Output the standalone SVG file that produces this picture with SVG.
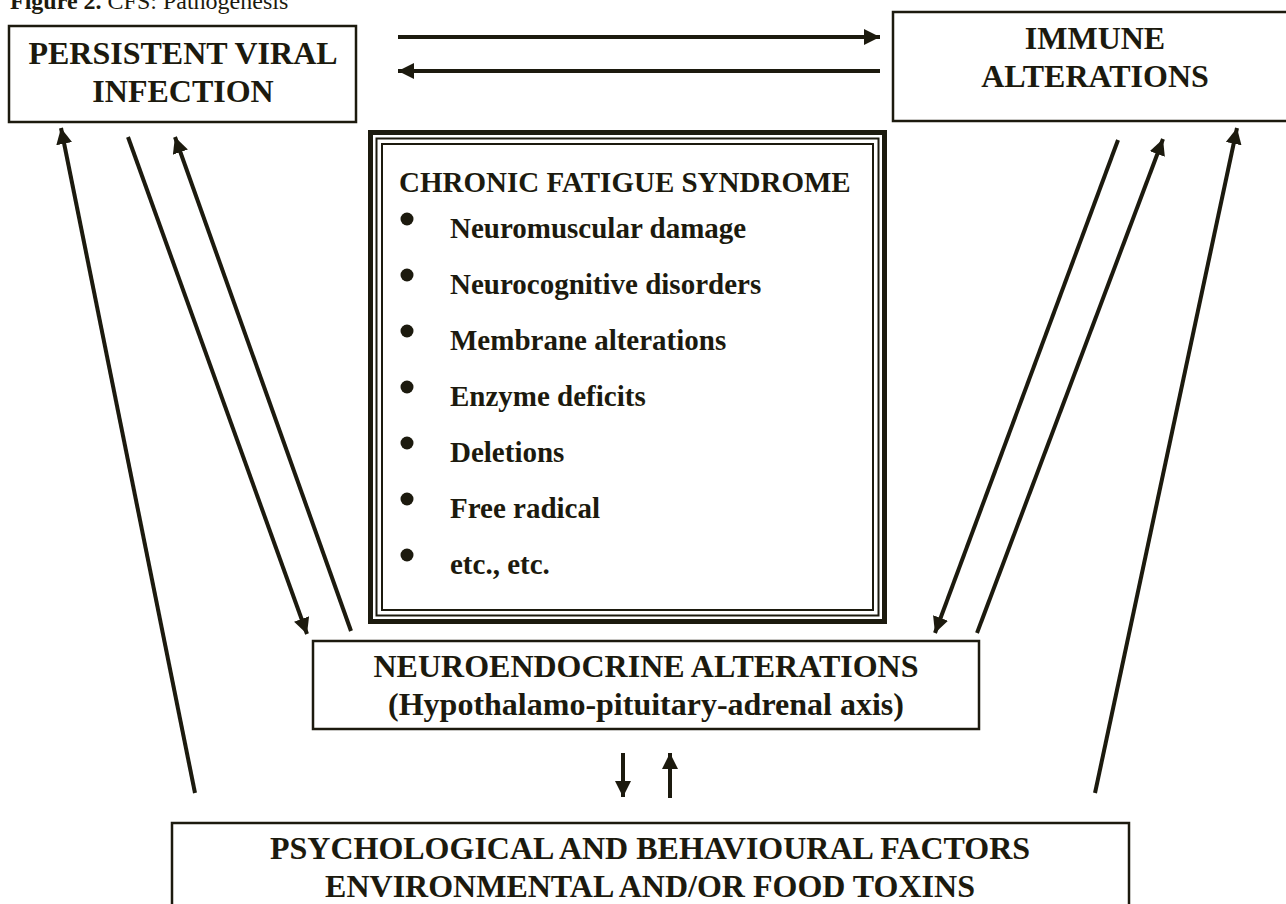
<svg xmlns="http://www.w3.org/2000/svg" width="1286" height="904" viewBox="0 0 1286 904">
<defs>
<style>
.box{fill:#fff;stroke:#1c1a0e;stroke-width:2.5}
.t{font-family:"Liberation Serif","Times New Roman",serif;font-weight:bold;fill:#1c1a0e}
.big{font-size:32px;text-anchor:middle}
.item{font-size:29px}
.cn{fill:none;stroke:#1c1a0e;stroke-width:4}
.bul{fill:#1c1a0e}
</style>
<marker id="ah" markerUnits="userSpaceOnUse" markerWidth="18" markerHeight="16" refX="16" refY="8" orient="auto">
<path d="M0,0 L16,8 L0,16 Z" fill="#1c1a0e"/>
</marker>
</defs>
<rect width="1286" height="904" fill="#fff"/>
<text x="10" y="9" font-family="'Liberation Serif','Times New Roman',serif" font-size="24" fill="#1c1a0e"><tspan font-weight="bold">Figure 2.</tspan> CFS: Pathogenesis</text>

<g id="connectors">
<line class="cn" x1="398" y1="37" x2="880" y2="37" marker-end="url(#ah)"/>
<line class="cn" x1="880" y1="71" x2="398" y2="71" marker-end="url(#ah)"/>
<line class="cn" x1="195" y1="793" x2="61" y2="128" marker-end="url(#ah)"/>
<line class="cn" x1="128" y1="137" x2="307" y2="634" marker-end="url(#ah)"/>
<line class="cn" x1="351" y1="631" x2="175" y2="137" marker-end="url(#ah)"/>
<line class="cn" x1="1118" y1="140" x2="935" y2="633" marker-end="url(#ah)"/>
<line class="cn" x1="977" y1="633" x2="1163" y2="139" marker-end="url(#ah)"/>
<line class="cn" x1="1095" y1="793" x2="1237" y2="128" marker-end="url(#ah)"/>
<line class="cn" x1="623" y1="753" x2="623" y2="797" stroke-width="3.5" marker-end="url(#ah)"/>
<line class="cn" x1="670" y1="798" x2="670" y2="753" stroke-width="3.5" marker-end="url(#ah)"/>
</g>

<g id="persistent">
<rect class="box" x="9" y="26" width="347" height="96"/>
<text class="t big" x="183" y="64">PERSISTENT VIRAL</text>
<text class="t big" x="183" y="102">INFECTION</text>
</g>

<g id="immune">
<rect class="box" x="893" y="12" width="404" height="109"/>
<text class="t big" x="1095" y="49">IMMUNE</text>
<text class="t big" x="1095" y="87">ALTERATIONS</text>
</g>

<g id="cfs">
<rect x="370.5" y="132.5" width="514" height="489" fill="#fff" stroke="#1c1a0e" stroke-width="5"/>
<rect x="376.5" y="138.5" width="502" height="477" fill="none" stroke="#1c1a0e" stroke-width="2"/>
<rect x="382" y="144" width="491" height="466" fill="none" stroke="#1c1a0e" stroke-width="2"/>
<text class="t item" x="399" y="192">CHRONIC FATIGUE SYNDROME</text>
<circle class="bul" cx="407" cy="219" r="6.5"/>
<circle class="bul" cx="407" cy="275" r="6.5"/>
<circle class="bul" cx="407" cy="331" r="6.5"/>
<circle class="bul" cx="407" cy="387" r="6.5"/>
<circle class="bul" cx="407" cy="443" r="6.5"/>
<circle class="bul" cx="407" cy="499" r="6.5"/>
<circle class="bul" cx="407" cy="555" r="6.5"/>
<text class="t item" x="450" y="238">Neuromuscular damage</text>
<text class="t item" x="450" y="294">Neurocognitive disorders</text>
<text class="t item" x="450" y="350">Membrane alterations</text>
<text class="t item" x="450" y="406">Enzyme deficits</text>
<text class="t item" x="450" y="462">Deletions</text>
<text class="t item" x="450" y="518">Free radical</text>
<text class="t item" x="450" y="574">etc., etc.</text>
</g>

<g id="neuroendocrine">
<rect class="box" x="313" y="641" width="666" height="88"/>
<text class="t big" x="646" y="677">NEUROENDOCRINE ALTERATIONS</text>
<text class="t big" x="646" y="715">(Hypothalamo-pituitary-adrenal axis)</text>
</g>

<g id="factors">
<rect class="box" x="172" y="823" width="957" height="100" stroke-width="3"/>
<text class="t big" x="650" y="859">PSYCHOLOGICAL AND BEHAVIOURAL FACTORS</text>
<text class="t big" x="650" y="897">ENVIRONMENTAL AND/OR FOOD TOXINS</text>
</g>
</svg>
